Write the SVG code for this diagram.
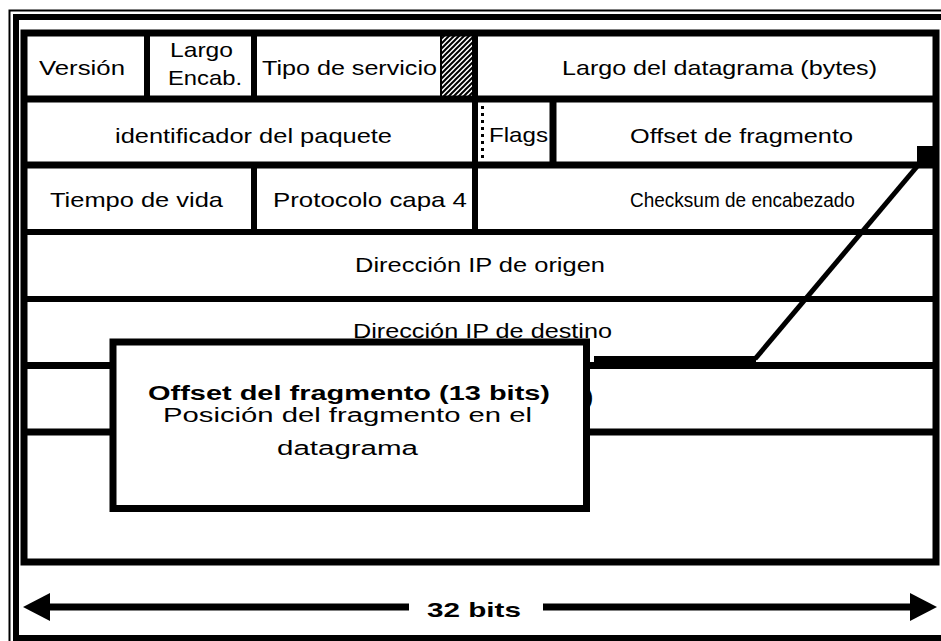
<svg xmlns="http://www.w3.org/2000/svg" width="941" height="641" viewBox="0 0 941 641">
<defs>
<style>
.t{font-family:"Liberation Sans",Arial,sans-serif;font-size:21px;fill:#000}
.p{font-size:20px}
.b{font-weight:bold}
.ln{stroke:#000;stroke-width:7;fill:none}
.ln6{stroke:#000;stroke-width:6;fill:none}
</style>
<pattern id="hatch" width="5" height="5" patternUnits="userSpaceOnUse">
<rect width="5" height="5" fill="#fff"/>
<path d="M-1,6 L6,-1 M-1,1 L1,-1 M4,6 L6,4" stroke="#000" stroke-width="2"/>
</pattern>
<pattern id="dots" width="6" height="7" patternUnits="userSpaceOnUse">
<rect width="6" height="7" fill="#fff"/>
<rect x="1" y="1" width="3" height="3" fill="#000"/>
</pattern>
</defs>
<rect width="941" height="641" fill="#fff"/>
<g id="frame">
<rect x="9.5" y="10.5" width="940" height="640" fill="none" stroke="#000" stroke-width="2"/>
<rect x="16" y="17" width="940" height="621" fill="none" stroke="#000" stroke-width="6"/>
</g>
<g id="table">
<rect x="442" y="36" width="30" height="60" fill="url(#hatch)"/>
<rect x="478" y="102" width="6" height="60" fill="url(#dots)"/>
<line x1="441" y1="36" x2="441" y2="96" stroke="#000" stroke-width="2"/>
<rect class="ln" x="24" y="33" width="912" height="529"/>
<line class="ln" x1="24" y1="99" x2="936" y2="99"/>
<line class="ln" x1="24" y1="165" x2="936" y2="165"/>
<line class="ln6" x1="24" y1="232" x2="936" y2="232"/>
<line class="ln6" x1="24" y1="299" x2="936" y2="299"/>
<line class="ln" x1="24" y1="365.5" x2="936" y2="365.5"/>
<line class="ln" x1="24" y1="432" x2="936" y2="432"/>
<line class="ln6" x1="147" y1="33" x2="147" y2="99"/>
<line class="ln6" x1="254" y1="33" x2="254" y2="99"/>
<line class="ln6" x1="475" y1="33" x2="475" y2="165"/>
<line class="ln" x1="553" y1="99" x2="553" y2="165"/>
<line class="ln6" x1="254" y1="165" x2="254" y2="232"/>
<line class="ln6" x1="475" y1="165" x2="475" y2="232"/>
</g>
<g id="node-version"><text class="t" x="39" y="75" textLength="86" lengthAdjust="spacingAndGlyphs">Versión</text></g>
<g id="node-largo-encab"><text class="t" x="170" y="57" textLength="63" lengthAdjust="spacingAndGlyphs">Largo</text><text class="t" x="168" y="85" textLength="74" lengthAdjust="spacingAndGlyphs">Encab.</text></g>
<g id="node-tipo"><text class="t" x="262" y="75" textLength="175" lengthAdjust="spacingAndGlyphs">Tipo de servicio</text></g>
<g id="node-largo-datagrama"><text class="t" x="562" y="75" textLength="315" lengthAdjust="spacingAndGlyphs">Largo del datagrama (bytes)</text></g>
<g id="node-identificador"><text class="t" x="115" y="143" textLength="277" lengthAdjust="spacingAndGlyphs">identificador del paquete</text></g>
<g id="node-flags"><text class="t" x="489" y="142" textLength="59" lengthAdjust="spacingAndGlyphs">Flags</text></g>
<g id="node-offset"><text class="t" x="630" y="143" textLength="223" lengthAdjust="spacingAndGlyphs">Offset de fragmento</text></g>
<g id="node-tiempo"><text class="t" x="50" y="207" textLength="173" lengthAdjust="spacingAndGlyphs">Tiempo de vida</text></g>
<g id="node-protocolo"><text class="t" x="273" y="207" textLength="194" lengthAdjust="spacingAndGlyphs">Protocolo capa 4</text></g>
<g id="node-checksum"><text class="t" transform="translate(630 207) scale(0.905 1)" x="0" y="0">Checksum de encabezado</text></g>
<g id="node-origen"><text class="t" x="355" y="272" textLength="250" lengthAdjust="spacingAndGlyphs">Dirección IP de origen</text></g>
<g id="node-destino"><text class="t" x="353" y="338" textLength="259" lengthAdjust="spacingAndGlyphs">Dirección IP de destino</text></g>
<g id="node-opciones"><text class="t b" x="586" y="404">)</text></g>
<g id="connectors">
<rect x="917" y="146" width="16" height="18" fill="#000"/>
<line x1="920" y1="163" x2="755" y2="359" stroke="#000" stroke-width="5"/>
<rect x="594" y="356" width="162" height="9" fill="#000"/>
</g>
<g id="node-callout">
<rect x="113" y="342" width="473.5" height="166.5" fill="#fff" stroke="#000" stroke-width="7"/>
<text class="t p b" x="148" y="400" textLength="402" lengthAdjust="spacingAndGlyphs">Offset del fragmento (13 bits)</text>
<text class="t p" x="163" y="422" textLength="369" lengthAdjust="spacingAndGlyphs">Posición del fragmento en el</text>
<text class="t p" x="277" y="455" textLength="141" lengthAdjust="spacingAndGlyphs">datagrama</text>
</g>
<g id="width-arrow">
<rect x="48" y="603.5" width="361" height="7" fill="#000"/>
<rect x="543" y="603.5" width="369" height="7" fill="#000"/>
<polygon points="23,607 50,593 50,621" fill="#000"/>
<polygon points="937,607 910,593 910,621" fill="#000"/>
<text class="t b" x="427" y="617" textLength="94" lengthAdjust="spacingAndGlyphs">32 bits</text>
</g>
</svg>
